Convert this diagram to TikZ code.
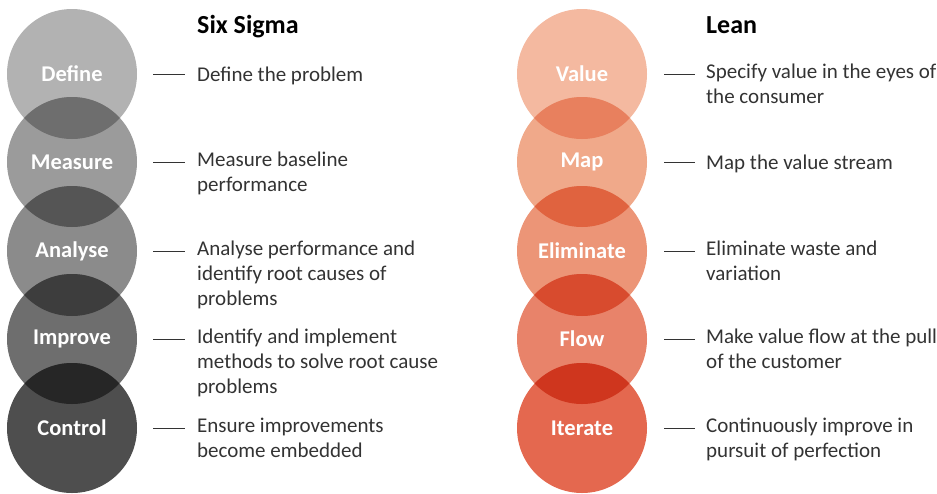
\documentclass[tikz,border=0pt]{standalone}
\usepackage{fontspec}
\setmainfont{Carlito}
\usepackage{xcolor}
\usepackage{tikz}
\usetikzlibrary{positioning}

\definecolor{gDefine}{HTML}{B2B2B2}
\definecolor{gMeasure}{HTML}{9B9B9B}
\definecolor{gAnalyse}{HTML}{8B8B8B}
\definecolor{gImprove}{HTML}{6E6E6E}
\definecolor{gControl}{HTML}{4E4E4E}
\definecolor{gDM}{HTML}{6E6E6E}
\definecolor{gMA}{HTML}{555555}
\definecolor{gAI}{HTML}{3D3D3D}
\definecolor{gIC}{HTML}{262626}
\definecolor{oValue}{HTML}{F4B9A0}
\definecolor{oMap}{HTML}{F0A98A}
\definecolor{oElim}{HTML}{EC9577}
\definecolor{oFlow}{HTML}{E8836A}
\definecolor{oIter}{HTML}{E4684F}
\definecolor{oVM}{HTML}{E8805E}
\definecolor{oME}{HTML}{E0633F}
\definecolor{oEF}{HTML}{D84B2E}
\definecolor{oFI}{HTML}{CF361E}
\definecolor{txt}{HTML}{333333}

\begin{document}
\begin{tikzpicture}[x=1pt, y=-1pt,
			disc/.style={circle, minimum size=130pt, inner sep=0pt, text=white,
				font=\fontsize{22.5}{26}\selectfont\bfseries},
			desc/.style={anchor=north west, align=left, inner sep=0pt, text=txt,
				font=\fontsize{21}{25}\selectfont, execute at begin node=\strut},
			head/.style={anchor=base west, inner sep=0pt,
				font=\fontsize{26}{30}\selectfont\bfseries},
			tick/.style={draw=txt, line width=0.9pt}]
			
			\useasboundingbox (0,0) rectangle (937,493);
			
			% Six Sigma column
			\node[disc, fill=gDefine] (define) at (72,74) {};
			\node[disc, fill=gMeasure] (measure) at (72,162) {};
			\node[disc, fill=gAnalyse] (analyse) at (72,251) {};
			\node[disc, fill=gImprove] (improve) at (72,339) {};
			\node[disc, fill=gControl] (control) at (72,428) {};
			\begin{scope}\clip (define.center) circle (65); \fill[gDM] (measure.center) circle (65);\end{scope}
			\begin{scope}\clip (measure.center) circle (65); \fill[gMA] (analyse.center) circle (65);\end{scope}
			\begin{scope}\clip (analyse.center) circle (65); \fill[gAI] (improve.center) circle (65);\end{scope}
			\begin{scope}\clip (improve.center) circle (65); \fill[gIC] (control.center) circle (65);\end{scope}
			\node[disc] at (define) {Define};
			\node[disc] at (measure) {Measure};
			\node[disc] at (analyse) {Analyse};
			\node[disc] at (improve) {Improve};
			\node[disc] at (control) {Control};
			
			\node[head] (sixsigma) at (197,33) {Six Sigma};
			\node[desc] (defineTxt) at (197,63.5) {Define the problem};
			\node[desc] (measureTxt) at (197,151.5) {Measure baseline\\performance};
			\node[desc] (analyseTxt) at (197,240.5) {Analyse performance and\\identify root causes of\\problems};
			\node[desc] (improveTxt) at (197,328.5) {Identify and implement\\methods to solve root cause\\problems};
			\node[desc] (controlTxt) at (197,417.5) {Ensure improvements\\become embedded};
			
			\draw[tick] ([xshift=16pt]define.east) -- ++(32,0);
			\draw[tick] ([xshift=16pt]measure.east) -- ++(32,0);
			\draw[tick] ([xshift=16pt]analyse.east) -- ++(32,0);
			\draw[tick] ([xshift=16pt]improve.east) -- ++(32,0);
			\draw[tick] ([xshift=16pt]control.east) -- ++(32,0);
			
			% Lean column
			\node[disc, fill=oValue] (value) at (582,74) {};
			\node[disc, fill=oMap] (map) at (582,162) {};
			\node[disc, fill=oElim] (eliminate) at (582,251) {};
			\node[disc, fill=oFlow] (flow) at (582,339) {};
			\node[disc, fill=oIter] (iterate) at (582,428) {};
			\begin{scope}\clip (value.center) circle (65); \fill[oVM] (map.center) circle (65);\end{scope}
			\begin{scope}\clip (map.center) circle (65); \fill[oME] (eliminate.center) circle (65);\end{scope}
			\begin{scope}\clip (eliminate.center) circle (65); \fill[oEF] (flow.center) circle (65);\end{scope}
			\begin{scope}\clip (flow.center) circle (65); \fill[oFI] (iterate.center) circle (65);\end{scope}
			\node[disc] at (value) {Value};
			\node[disc] at (map) {Map};
			\node[disc] at (eliminate) {Eliminate};
			\node[disc] at (flow) {Flow};
			\node[disc] at (iterate) {Iterate};
			
			\node[head] (lean) at (706,33) {Lean};
			\node[desc] (valueTxt) at (706,63.5) {Specify value in the eyes of\\the consumer};
			\node[desc] (mapTxt) at (706,151.5) {Map the value stream};
			\node[desc] (eliminateTxt) at (706,240.5) {Eliminate waste and\\variation};
			\node[desc] (flowTxt) at (706,328.5) {Make value flow at the pull\\of the customer};
			\node[desc] (iterateTxt) at (706,417.5) {Continuously improve in\\pursuit of perfection};
			
			\draw[tick] ([xshift=17pt]value.east) -- ++(31,0);
			\draw[tick] ([xshift=17pt]map.east) -- ++(31,0);
			\draw[tick] ([xshift=17pt]eliminate.east) -- ++(31,0);
			\draw[tick] ([xshift=17pt]flow.east) -- ++(31,0);
			\draw[tick] ([xshift=17pt]iterate.east) -- ++(31,0);
		\end{tikzpicture}
\end{document}
